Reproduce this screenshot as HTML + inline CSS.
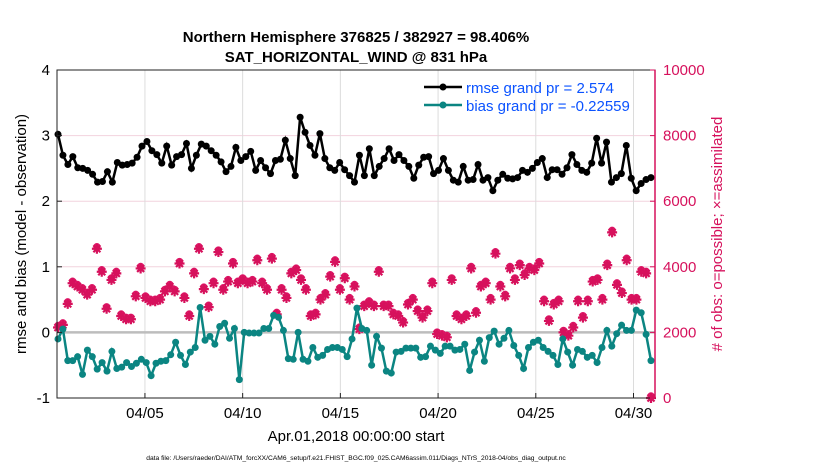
<!DOCTYPE html>
<html><head><meta charset="utf-8"><style>
body{margin:0;background:#fff;width:830px;height:470px;overflow:hidden;font-family:"Liberation Sans",sans-serif}
svg text{font-family:"Liberation Sans",sans-serif}
</style></head><body>
<svg id="chart" width="830" height="470" xmlns="http://www.w3.org/2000/svg">
<text x="356" y="42" text-anchor="middle" font-size="15" font-weight="bold">Northern Hemisphere 376825 / 382927 = 98.406%</text>
<text x="356" y="62" text-anchor="middle" font-size="15" font-weight="bold">SAT_HORIZONTAL_WIND @ 831 hPa</text>
<g id="grid"></g>
<g id="series"></g>
<g id="axes"></g>
<text transform="translate(26,234) rotate(-90)" text-anchor="middle" font-size="15">rmse and bias (model - observation)</text>
<text transform="translate(722,234) rotate(-90)" text-anchor="middle" font-size="15" fill="#d6115c"># of obs: o=possible; ×=assimilated</text>
<text x="356" y="441" text-anchor="middle" font-size="15">Apr.01,2018 00:00:00 start</text>
<text x="356" y="460" text-anchor="middle" font-size="6.7">data file: /Users/raeder/DAI/ATM_forcXX/CAM6_setup/f.e21.FHIST_BGC.f09_025.CAM6assim.011/Diags_NTrS_2018-04/obs_diag_output.nc</text>
<g>
<line x1="424" y1="87" x2="462" y2="87" stroke="#000" stroke-width="2.5"/><circle cx="443" cy="87" r="3.5" fill="#000"/>
<text x="466" y="93" font-size="15" fill="#0a52ff">rmse grand pr = 2.574</text>
<line x1="424" y1="105" x2="462" y2="105" stroke="#0b8582" stroke-width="2.5"/><circle cx="443" cy="105" r="3.5" fill="#0b8582"/>
<text x="466" y="111" font-size="15" fill="#0a52ff">bias grand pr = -0.22559</text>
</g>
</svg>
<script>
const rmseValues=[3.02,2.7,2.56,2.68,2.51,2.5,2.47,2.41,2.29,2.3,2.45,2.29,2.59,2.55,2.56,2.58,2.67,2.84,2.91,2.77,2.71,2.58,2.84,2.55,2.68,2.71,2.88,2.5,2.7,2.87,
2.84,2.77,2.7,2.6,2.45,2.53,2.82,2.62,2.68,2.76,2.47,2.62,2.51,2.42,2.62,2.64,2.93,2.65,2.39,3.28,3.05,2.85,2.7,3.03,2.65,2.51,2.47,2.59,2.48,2.39,2.29,
2.7,2.39,2.8,2.39,2.53,2.65,2.8,2.62,2.71,2.62,2.53,2.35,2.55,2.67,2.68,2.42,2.47,2.65,2.47,2.32,2.29,2.53,2.32,2.33,2.56,2.32,2.36,2.16,2.32,2.41,2.35,
2.34,2.36,2.47,2.44,2.5,2.59,2.65,2.36,2.48,2.48,2.41,2.51,2.71,2.56,2.47,2.44,2.58,2.96,2.58,2.9,2.29,2.36,2.42,2.85,2.35,2.16,2.27,2.33,2.36];
const biasValues=[-0.1,0.05,-0.43,-0.43,-0.37,-0.64,-0.27,-0.37,-0.56,-0.46,-0.59,-0.29,-0.55,-0.53,-0.46,-0.52,-0.47,-0.41,-0.46,-0.66,-0.47,-0.44,-0.43,-0.34,-0.15,-0.35,-0.49,-0.3,-0.23,0.38,-0.12,
-0.06,-0.18,0.09,0.14,-0.09,0.06,-0.72,0,-0.01,-0.01,-0.01,0.06,0.06,0.26,0.23,0.03,-0.4,-0.41,0,-0.41,-0.44,-0.23,-0.38,-0.35,-0.26,-0.23,-0.23,-0.26,-0.37,-0.1,0.37,
0.06,0.03,-0.5,-0.06,-0.24,-0.59,-0.62,-0.3,-0.29,-0.24,-0.24,-0.24,-0.38,-0.37,-0.21,-0.27,-0.32,-0.21,-0.21,-0.27,-0.26,-0.18,-0.58,-0.3,-0.12,-0.44,-0.08,0.02,-0.18,-0.09,0.03,
-0.2,-0.35,-0.55,-0.23,-0.15,-0.12,-0.23,-0.29,-0.35,-0.49,-0.1,-0.3,-0.5,-0.26,-0.29,-0.38,-0.35,-0.46,-0.23,0.03,-0.21,-0.02,0.11,0.03,0.03,0.34,0.3,-0.03,-0.43];
const obsCounts=[2150,2230,2870,3500,3400,3300,3150,3300,4550,3850,2720,3600,3800,2500,2400,2400,3100,3950,3050,2950,2950,3000,3250,3400,3250,4100,3050,2500,3800,4550,3320,
2770,3500,4450,3300,3550,4100,3500,3600,3500,3550,4200,3500,3300,4250,2550,3300,3050,3800,3900,3600,3300,2500,2550,3000,3150,3700,4150,3300,3650,3000,3400,
2100,2800,2900,2800,3850,2800,2800,2550,2500,2300,2850,3000,2650,2450,2650,3500,1950,1900,1850,3600,2500,2400,2500,3950,2600,3400,3500,3000,4400,3400,3100,
3950,3600,4050,3750,3950,3900,4100,2950,2350,2850,2950,2000,1900,2150,2950,2450,2950,3550,3600,3000,4050,5050,3450,3200,4200,3000,3000,3850,3800,0];
const leftTicks=[4,3,2,1,0,-1];
const rightTicks=[0,2000,4000,6000,8000,10000];
const dayTicks=[5,10,15,20,25,30];
const dayLabels=["04/05","04/10","04/15","04/20","04/25","04/30"];

const X0=57,X1=655,Y0=70,Y1=398;
const dayMin=0.5,dayMax=31.1;
const xDay=d=>X0+(d-dayMin)/(dayMax-dayMin)*(X1-X0);
const yL=v=>Y1-(v+1)/5*(Y1-Y0);
const yR=v=>Y1-v/10000*(Y1-Y0);
const xIdx=(i,n)=>58+i*(651-58)/(n-1);
const NS="http://www.w3.org/2000/svg";
function mk(tag,attrs,parent){const e=document.createElementNS(NS,tag);for(const k in attrs)e.setAttribute(k,attrs[k]);parent.appendChild(e);return e;}
const grid=document.getElementById('grid'),ser=document.getElementById('series'),ax=document.getElementById('axes');

leftTicks.forEach(v=>{if(v>-1&&v<4&&v!==0){const g=mk('line',{x1:X0,x2:X1,y1:yL(v),y2:yL(v),stroke:'#f2d3de','stroke-width':1},grid);

}});
dayTicks.forEach(d=>{const g=mk('line',{x1:xDay(d),x2:xDay(d),y1:Y0,y2:Y1,stroke:'#dcdcdc','stroke-width':1},grid);

});
const zl=mk('line',{x1:X0,x2:X1,y1:yL(0),y2:yL(0),stroke:'#bdbdbd','stroke-width':2.5},grid);



obsCounts.forEach((c,i)=>{const x=xIdx(i,obsCounts.length),y=yR(c);
const g=mk('g',{},ser);


mk('circle',{cx:x,cy:y-2,r:3.2,fill:'#e0186a',stroke:'#e0186a','stroke-width':1},g);
mk('path',{d:`M${x-5} ${y}h10M${x} ${y-5}v10M${x-3.5} ${y-3.5}l7 7M${x+3.5} ${y-3.5}l-7 7`,stroke:'#d6115c','stroke-width':2.2},g);});

function series(vals,color,name){
const pts=vals.map((v,i)=>[xIdx(i,vals.length),yL(v)]);
const p=mk('polyline',{points:pts.map(p=>p.join(',')).join(' '),fill:'none',stroke:color,'stroke-width':2.5},ser);


pts.forEach(q=>{const c=mk('circle',{cx:q[0],cy:q[1],r:3.5,fill:color},ser);

});}
series(biasValues,'#0b8582','bias');
series(rmseValues,'#000','rmse');

mk('rect',{x:X0,y:Y0,width:X1-X0,height:Y1-Y0,fill:'none',stroke:'#222','stroke-width':1},ax);
mk('line',{x1:X1,x2:X1,y1:Y0,y2:Y1,stroke:'#d6115c','stroke-width':1.5},ax);
leftTicks.forEach(v=>{const y=yL(v);mk('line',{x1:X0,x2:X0+5,y1:y,y2:y,stroke:'#222'},ax);
const t=mk('text',{x:X0-7,y:y+5,'text-anchor':'end','font-size':15},ax);t.textContent=v;

});
rightTicks.forEach(v=>{const y=yR(v);mk('line',{x1:X1-5,x2:X1,y1:y,y2:y,stroke:'#d6115c'},ax);
const t=mk('text',{x:X1+8,y:y+5,'font-size':15,fill:'#d6115c'},ax);t.textContent=v;

});
dayTicks.forEach((d,i)=>{const x=xDay(d);mk('line',{x1:x,x2:x,y1:Y1,y2:Y1-5,stroke:'#222'},ax);
const t=mk('text',{x:x,y:Y1+20,'text-anchor':'middle','font-size':15},ax);t.textContent=dayLabels[i];

});
</script>
</body></html>
